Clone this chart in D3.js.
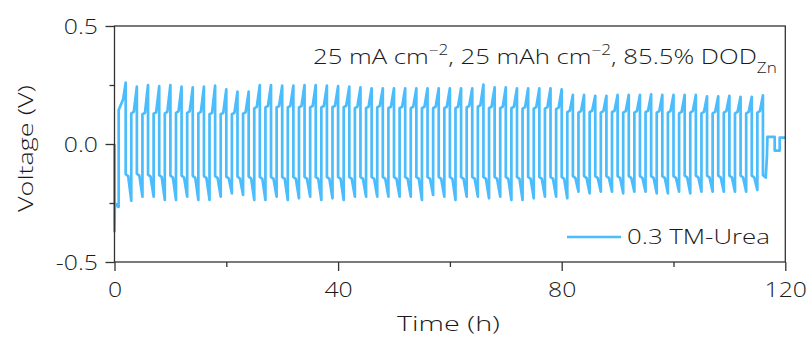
<!DOCTYPE html>
<html>
<head>
<meta charset="utf-8">
<script src="https://cdn.jsdelivr.net/npm/d3@7"></script>
<style>
  html, body { margin: 0; padding: 0; background: #fff; }
  svg text { font-family: "Open Sans", "Noto Sans", sans-serif; font-weight: 350; fill: #1a1a1a; }
</style>
</head>
<body>
<svg id="chart" width="812" height="340"></svg>
<script>
// Galvanostatic Zn plating/stripping: 1 h charge + 1 h discharge per cycle (2 h cycle)
const cycleHours = 2;

// Opening step before the first full cycle: [time (h), voltage (V)]
const startTrace = [
  [0.00, 0.000], [0.00, -0.370], [0.06, -0.255], [0.40, -0.255],
  [0.60, -0.266], [0.75, -0.266], [0.75, 0.144], [1.55, 0.190]
];

// Per-cycle voltages (V), cycle k peaks at t = 2k h
const chargePlateau = [
  0.144, 0.130, 0.126, 0.128, 0.130, 0.132, 0.132, 0.130, 0.126, 0.126,
  0.126, 0.128, 0.151, 0.155, 0.155, 0.155, 0.155, 0.155, 0.155, 0.156,
  0.156, 0.152, 0.152, 0.155, 0.152, 0.152, 0.152, 0.152, 0.152, 0.152,
  0.152, 0.155, 0.158, 0.152, 0.152, 0.152, 0.150, 0.150, 0.150, 0.148,
  0.135, 0.133, 0.135, 0.133, 0.135, 0.133, 0.133, 0.135, 0.133, 0.133,
  0.130, 0.133, 0.130, 0.130, 0.133, 0.130, 0.130, 0.133
];
const chargePeak = [
  0.260, 0.243, 0.250, 0.245, 0.250, 0.243, 0.240, 0.243, 0.247, 0.232,
  0.222, 0.222, 0.250, 0.250, 0.247, 0.247, 0.250, 0.250, 0.247, 0.245,
  0.243, 0.240, 0.236, 0.236, 0.236, 0.236, 0.236, 0.236, 0.236, 0.236,
  0.236, 0.236, 0.252, 0.240, 0.240, 0.236, 0.236, 0.236, 0.236, 0.232,
  0.208, 0.208, 0.204, 0.204, 0.208, 0.208, 0.208, 0.210, 0.208, 0.208,
  0.208, 0.208, 0.202, 0.202, 0.204, 0.200, 0.200, 0.206
];
const dischargePlateau = [
  -0.128, -0.126, -0.130, -0.132, -0.134, -0.134, -0.135, -0.136, -0.136, -0.138,
  -0.138, -0.138, -0.140, -0.140, -0.140, -0.140, -0.140, -0.140, -0.140, -0.140,
  -0.140, -0.140, -0.140, -0.140, -0.140, -0.140, -0.140, -0.140, -0.140, -0.140,
  -0.140, -0.140, -0.140, -0.140, -0.140, -0.140, -0.140, -0.140, -0.140, -0.140,
  -0.136, -0.136, -0.136, -0.136, -0.136, -0.136, -0.136, -0.136, -0.136, -0.136,
  -0.134, -0.134, -0.134, -0.134, -0.134, -0.134, -0.134, -0.132
];
const dischargeSpike = [
  -0.240, -0.223, -0.223, -0.237, -0.237, -0.223, -0.237, -0.237, -0.223, -0.209,
  -0.216, -0.237, -0.237, -0.223, -0.237, -0.230, -0.223, -0.237, -0.230, -0.237,
  -0.223, -0.223, -0.223, -0.223, -0.223, -0.223, -0.237, -0.216, -0.223, -0.237,
  -0.223, -0.223, -0.230, -0.223, -0.237, -0.237, -0.230, -0.223, -0.223, -0.230,
  -0.202, -0.209, -0.202, -0.202, -0.209, -0.202, -0.202, -0.209, -0.209, -0.202,
  -0.209, -0.202, -0.202, -0.202, -0.202, -0.202, -0.195
];

// Rest period after the final cycle: [time (h), voltage (V)]
const endTrace = [
  [116.50, -0.142], [116.72, -0.050], [116.80, 0.030], [118.10, 0.030],
  [118.10, -0.028], [119.00, -0.028], [119.00, 0.027], [120.00, 0.027]
];

const xTicks = [0, 40, 80, 120];
const xMinorTicks = [20, 60, 100];
const yTicks = [-0.5, 0.0, 0.5];
const yMinorTicks = [-0.25, 0.25];
const seriesName = "0.3 TM-Urea";

// ---- build the voltage trace ----
const trace = startTrace.slice();
chargePeak.forEach((peak, i) => {
  const k = i + 1;
  const tPeak = k * cycleHours;
  if (k > 1) {
    const tStart = tPeak - 1;
    trace.push([tStart, chargePlateau[i]]);
    trace.push([tStart + 0.45, chargePlateau[i] + 0.006]);
  }
  trace.push([tPeak, peak]);
  trace.push([tPeak, dischargePlateau[i]]);
  if (i < dischargeSpike.length) {
    trace.push([tPeak + 0.45, dischargePlateau[i] - 0.008]);
    trace.push([tPeak + 1, dischargeSpike[i]]);
  }
});
endTrace.forEach(p => trace.push(p));

// ---- chart ----
const svg = d3.select("#chart");
const plot = { left: 114.5, right: 785.3, top: 26, bottom: 262 };
const fontSize = 21;
const widen = 1.18;   // horizontal glyph stretch used for every label

const x = d3.scaleLinear().domain([0, 120]).range([plot.left, plot.right]);
const y = d3.scaleLinear().domain([-0.5, 0.5]).range([plot.bottom, plot.top]);

const axisColor = "#333";
const lineColor = "#4bbcfc";

// stretch a text element so its ink runs from x0 to x1 (in its own frame)
function fitSpan(sel, x0, x1, prefix = "") {
  const b = sel.node().getBBox();
  const s = (x1 - x0) / b.width;
  sel.attr("transform", `${prefix} translate(${x0 - b.x * s},0) scale(${s},1)`);
}

// data line
svg.append("path")
  .datum(trace)
  .attr("fill", "none")
  .attr("stroke", lineColor)
  .attr("stroke-width", 2.7)
  .attr("stroke-linejoin", "round")
  .attr("d", d3.line().x(d => x(d[0])).y(d => y(d[1])));

// frame
svg.append("rect")
  .attr("x", plot.left).attr("y", plot.top)
  .attr("width", plot.right - plot.left).attr("height", plot.bottom - plot.top)
  .attr("fill", "none").attr("stroke", axisColor).attr("stroke-width", 1.3);

// axes
const fmtY = d => d3.format(".1f")(d).replace("\u2212", "-");
const xAxis = svg.append("g").attr("transform", `translate(0,${plot.bottom})`)
  .call(d3.axisBottom(x).tickValues(xTicks).tickSize(9).tickPadding(11).tickFormat(d3.format("d")));
const xMinor = svg.append("g").attr("transform", `translate(0,${plot.bottom})`)
  .call(d3.axisBottom(x).tickValues(xMinorTicks).tickSize(5).tickFormat(""));
const yAxis = svg.append("g").attr("transform", `translate(${plot.left},0)`)
  .call(d3.axisLeft(y).tickValues(yTicks).tickSize(9).tickFormat(fmtY));
const yMinor = svg.append("g").attr("transform", `translate(${plot.left},0)`)
  .call(d3.axisLeft(y).tickValues(yMinorTicks).tickSize(5).tickFormat(""));

[xAxis, xMinor, yAxis, yMinor].forEach(g => {
  g.select(".domain").remove();
  g.selectAll(".tick line").attr("stroke", axisColor).attr("stroke-width", 1.3);
  g.selectAll(".tick text").attr("font-size", fontSize).attr("fill", "#1a1a1a")
    .attr("font-family", "'Open Sans', sans-serif").attr("font-weight", 350);
});
xAxis.selectAll(".tick text").attr("transform", `scale(${widen},1)`);
yAxis.selectAll(".tick text")
  .attr("x", 0).attr("dy", "0.36em")
  .attr("transform", `translate(-16.5,0) scale(${widen},1)`);

// axis titles
const xTitle = svg.append("text")
  .attr("y", 331).attr("font-size", fontSize)
  .text("Time (h)");
fitSpan(xTitle, 397, 500);

const yTitle = svg.append("text")
  .attr("y", 0).attr("font-size", fontSize)
  .text("Voltage (V)");
{
  const b = yTitle.node().getBBox();
  const len = 212 - 85;
  const s = len / b.width;
  yTitle.attr("transform",
    `translate(33,${(85 + 212) / 2}) rotate(-90) translate(${-len / 2 - b.x * s},0) scale(${s},1)`);
}

// condition annotation
const note = svg.append("text")
  .attr("y", 64).attr("font-size", fontSize);
note.append("tspan").text("25 mA cm");
note.append("tspan").attr("font-size", 14).attr("dy", -9).text("\u22122");
note.append("tspan").attr("dy", 9).text(", 25 mAh cm");
note.append("tspan").attr("font-size", 14).attr("dy", -9).text("\u22122");
note.append("tspan").attr("dy", 9).text(", 85.5% DOD");
note.append("tspan").attr("font-size", 14).attr("dy", 9).text("Zn");
fitSpan(note, 313, 777);

// legend
svg.append("line")
  .attr("x1", 567).attr("x2", 621).attr("y1", 237).attr("y2", 237)
  .attr("stroke", lineColor).attr("stroke-width", 2.7);
const legendText = svg.append("text")
  .attr("y", 244.5).attr("font-size", fontSize)
  .text(seriesName);
fitSpan(legendText, 627, 770);
</script>
</body>
</html>
